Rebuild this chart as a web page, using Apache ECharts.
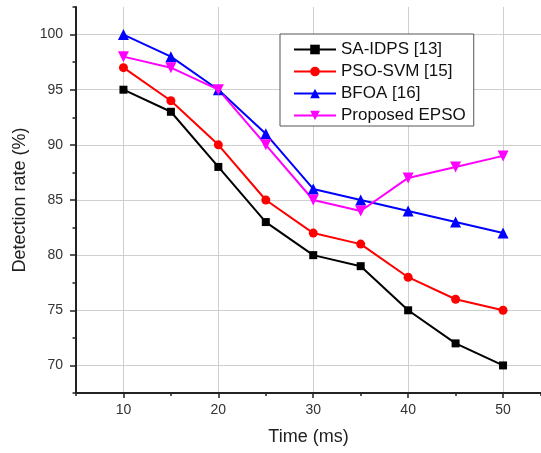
<!DOCTYPE html>
<html>
<head>
<meta charset="utf-8">
<script src="https://cdn.jsdelivr.net/npm/echarts@6/dist/echarts.min.js"></script>
<style>
  html, body { margin: 0; padding: 0; background: #fff; }
  #chart { width: 541px; height: 453px; }
</style>
</head>
<body>
<div id="chart"></div>
<script>
// data
const times = [10, 15, 20, 25, 30, 35, 40, 45, 50];
const saIdps = [95, 93, 88, 83, 80, 79, 75, 72, 70];
const psoSvm = [97, 94, 90, 85, 82, 81, 78, 76, 75];
const bfoa = [100, 98, 95, 91, 86, 85, 84, 83, 82];
const epso = [98, 97, 95, 90, 85, 84, 87, 88, 89];
const xTicks = [10, 20, 30, 40, 50];
const yTicks = [70, 75, 80, 85, 90, 95, 100];

const pairs = (ys) => times.map((t, i) => [t, ys[i]]);

const fontFamily = 'Liberation Sans, Arial, sans-serif';
const downTriangle = 'path://M0,0 L10,0 L5,9 Z';

const makeSeries = (name, ys, color, symbol, size) => ({
    name: name,
    type: 'line',
    data: pairs(ys),
    symbol: symbol,
    symbolSize: size,
    showAllSymbol: true,
    lineStyle: { color: color, width: 2 },
    itemStyle: { color: color },
    emphasis: { disabled: true },
    z: 3
});

const chart = echarts.init(document.getElementById('chart'));
const option = {
    animation: false,
    backgroundColor: '#fff',
    grid: { left: 76, top: 7, right: 0, bottom: 60 },
    legend: {
        orient: 'vertical',
        left: 280,
        top: 34,
        padding: [7, 8, 2, 13],
        itemWidth: 42,
        itemHeight: 12,
        itemGap: 5,
        borderColor: '#555',
        borderWidth: 1,
        backgroundColor: '#fff',
        textStyle: { fontFamily: fontFamily, fontSize: 17, color: '#111' },
        data: ['SA-IDPS [13]', 'PSO-SVM [15]', 'BFOA [16]', 'Proposed EPSO']
    },
    xAxis: [
        {
            type: 'value',
            min: 5,
            max: 54,
            name: 'Time (ms)',
            nameLocation: 'middle',
            nameGap: 35,
            nameTextStyle: { fontFamily: fontFamily, fontSize: 18, color: '#222' },
            axisLine: { show: true, lineStyle: { color: '#222', width: 2 } },
            axisTick: { show: true, customValues: xTicks, length: 5, lineStyle: { color: '#222', width: 1.5 } },
            axisLabel: { customValues: xTicks, margin: 10, fontFamily: fontFamily, fontSize: 14, color: '#333' },
            splitLine: { show: true, lineStyle: { color: '#cfcfcf', width: 1 } }
        },
        {
            // minor ticks
            type: 'value',
            position: 'bottom',
            min: 5,
            max: 54,
            interval: 10,
            axisLine: { show: false },
            axisTick: { show: true, length: 3, lineStyle: { color: '#222', width: 1.5 } },
            axisLabel: { show: false },
            splitLine: { show: false }
        }
    ],
    yAxis: [
        {
            type: 'value',
            min: 67.5,
            max: 102.5,
            name: 'Detection rate (%)',
            nameLocation: 'middle',
            nameGap: 45,
            nameTextStyle: { fontFamily: fontFamily, fontSize: 18, color: '#222' },
            axisLine: { show: true, lineStyle: { color: '#222', width: 2 } },
            axisTick: { show: true, customValues: yTicks, length: 6, lineStyle: { color: '#222', width: 1.5 } },
            axisLabel: { customValues: yTicks, margin: 13, fontFamily: fontFamily, fontSize: 14, color: '#333' },
            splitLine: { show: true, lineStyle: { color: '#cfcfcf', width: 1 } }
        },
        {
            // minor ticks
            type: 'value',
            position: 'left',
            min: 67.5,
            max: 102.5,
            interval: 5,
            axisLine: { show: false },
            axisTick: { show: true, length: 3.5, lineStyle: { color: '#222', width: 1.5 } },
            axisLabel: { show: false },
            splitLine: { show: false }
        }
    ],
    series: [
        makeSeries('SA-IDPS [13]', saIdps, '#000000', 'rect', 8),
        makeSeries('PSO-SVM [15]', psoSvm, '#ff0000', 'circle', 9),
        makeSeries('BFOA [16]', bfoa, '#0000ff', 'triangle', 11),
        makeSeries('Proposed EPSO', epso, '#ff00ff', downTriangle, 11)
    ]
};
chart.setOption(option);
</script>
</body>
</html>
